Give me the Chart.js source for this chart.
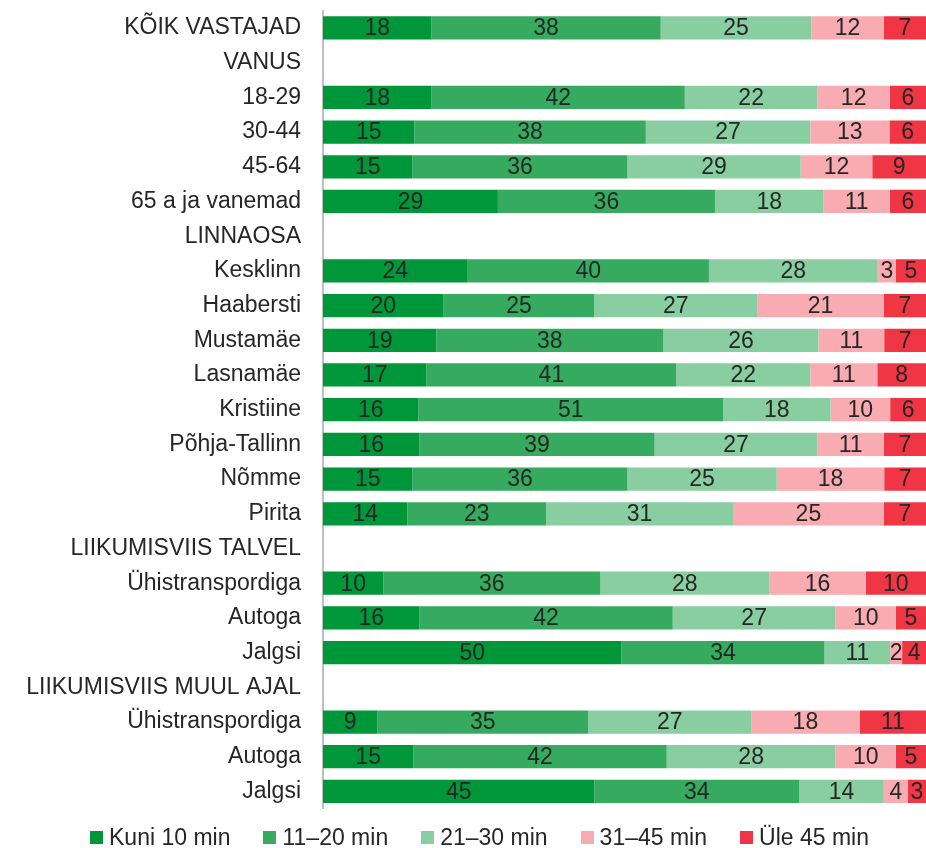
<!DOCTYPE html>
<html lang="et">
<head>
<meta charset="utf-8">
<title>Liikumisaeg</title>
<script src="https://cdn.jsdelivr.net/npm/chart.js@4.4.1/dist/chart.umd.min.js"></script>
<style>
  html, body { margin: 0; padding: 0; background: #fff; }
  #wrap { position: relative; width: 926px; height: 848px; overflow: hidden; }
  #legend { position: absolute; left: 90px; top: 826px; display: flex; align-items: center;
            font: 23px "Liberation Sans", Arial, sans-serif; color: #262626; line-height: 23px; white-space: nowrap; }
  #legend .item { display: flex; align-items: center; margin-right: 33px; }
  #legend .item:last-child { margin-right: 0; }
  #legend .box { width: 13px; height: 13px; margin-right: 6px; }
</style>
</head>
<body>
<div id="wrap">
  <canvas id="chart" width="926" height="848"></canvas>
  <div id="legend"></div>
</div>
<script>
const categories = ['KÕIK VASTAJAD','VANUS','18-29','30-44','45-64','65 a ja vanemad','LINNAOSA',
  'Kesklinn','Haabersti','Mustamäe','Lasnamäe','Kristiine','Põhja-Tallinn','Nõmme','Pirita',
  'LIIKUMISVIIS TALVEL','Ühistranspordiga','Autoga','Jalgsi',
  'LIIKUMISVIIS MUUL AJAL','Ühistranspordiga','Autoga','Jalgsi'];

const seriesNames = ['Kuni 10 min','11–20 min','21–30 min','31–45 min','Üle 45 min'];
const seriesColors = ['#00963a','#36ab5f','#88cea1','#f8abb1','#f03545'];

// null = pealkirjarida (andmeid pole)
const kuni10   = [18,null,18,15,15,29,null,24,20,19,17,16,16,15,14,null,10,16,50,null, 9,15,45];
const min11_20 = [38,null,42,38,36,36,null,40,25,38,41,51,39,36,23,null,36,42,34,null,35,42,34];
const min21_30 = [25,null,22,27,29,18,null,28,27,26,22,18,27,25,31,null,28,27,11,null,27,28,14];
const min31_45 = [12,null,12,13,12,11,null, 3,21,11,11,10,11,18,25,null,16,10, 2,null,18,10, 4];
const ule45    = [ 7,null, 6, 6, 9, 6,null, 5, 7, 7, 8, 6, 7, 7, 7,null,10, 5, 4,null,11, 5, 3];

const series = [kuni10, min11_20, min21_30, min31_45, ule45];

// ümardatud protsendid ei anna alati 100 -> riba pikkus skaleeritakse rea summale
const rowSums = categories.map((_, j) => series.reduce((s, arr) => s + (arr[j] || 0), 0));

const FONT = '"Liberation Sans", Arial, sans-serif';

const valueLabels = {
  id: 'valueLabels',
  afterDatasetsDraw(chart){
    const ctx = chart.ctx;
    ctx.save();
    ctx.font = `23px ${FONT}`;
    ctx.fillStyle = '#262626';
    ctx.textAlign = 'center';
    ctx.textBaseline = 'middle';
    chart.data.datasets.forEach((ds, i) => {
      chart.getDatasetMeta(i).data.forEach((bar, j) => {
        const v = ds.raw[j];
        if (v == null) return;
        const p = bar.getCenterPoint();
        ctx.fillText(String(v), p.x, p.y + 1);
      });
    });
    ctx.restore();
  }
};

const chart = new Chart(document.getElementById('chart'), {
  type: 'bar',
  data: {
    labels: categories,
    datasets: series.map((arr, i) => ({
      label: seriesNames[i],
      raw: arr,
      data: arr.map((v, j) => v == null ? null : v / rowSums[j] * 100),
      backgroundColor: seriesColors[i],
      borderWidth: 0,
      categoryPercentage: 1,
      barPercentage: 0.67
    }))
  },
  options: {
    indexAxis: 'y',
    responsive: false,
    animation: false,
    devicePixelRatio: 1,
    layout: { padding: { top: 10.6, bottom: 39.2, left: 0, right: 0 } },
    plugins: { legend: { display: false }, tooltip: { enabled: true } },
    scales: {
      x: { stacked: true, min: 0, max: 100, display: false },
      y: {
        stacked: true,
        grid: { display: false, drawTicks: false },
        border: { display: true, color: '#bfbfbf', width: 2 },
        ticks: { color: '#262626', font: { family: FONT, size: 23 }, padding: 22, autoSkip: false },
        afterFit: (scale) => { scale.width = 323; scale.paddingTop = 0; scale.paddingBottom = 0; }
      }
    }
  },
  plugins: [valueLabels]
});

const legendEl = document.getElementById('legend');
chart.data.datasets.forEach(ds => {
  const item = document.createElement('div');
  item.className = 'item';
  item.innerHTML = `<span class="box" style="background:${ds.backgroundColor}"></span><span>${ds.label}</span>`;
  legendEl.appendChild(item);
});
</script>
</body>
</html>
